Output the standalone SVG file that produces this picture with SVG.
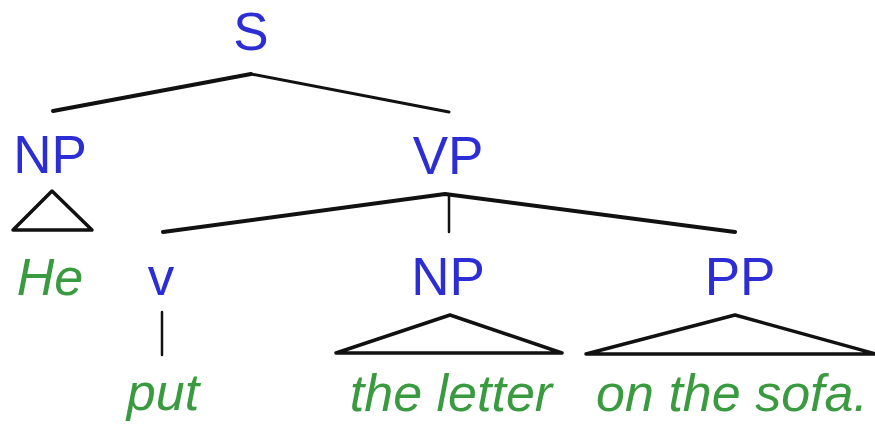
<svg xmlns="http://www.w3.org/2000/svg" width="875" height="424" viewBox="0 0 875 424">
  <style>
    .cat { font-family: "Liberation Sans", Arial, sans-serif; font-size: 53px; fill: #2d2dd6; text-anchor: middle; }
    .word { font-family: "Liberation Sans", Arial, sans-serif; font-size: 52px; font-style: italic; fill: #3a9a3f; text-anchor: middle; }
    .edge { stroke: #111; fill: none; stroke-linecap: round; stroke-linejoin: round; }
  </style>
  <rect width="875" height="424" fill="#ffffff"/>

  <!-- branches -->
  <g id="connectors" class="edge">
    <path d="M53 111 L251 74" stroke-width="4"/>
    <path d="M251 74 L449 112" stroke-width="3"/>
    <path d="M163 232 L445 194 L735 232" stroke-width="4"/>
    <path d="M449 195 L449 232" stroke-width="2.5"/>
    <path d="M162 312 L162 355" stroke-width="2.5"/>
    <!-- collapsed subtrees -->
    <path d="M13 230 L52 191 L92 230 Z" stroke-width="3.5"/>
    <path d="M336 353 L450 315 L562 353 Z" stroke-width="3.5"/>
    <path d="M586 354 L735 315 L876 354 Z" stroke-width="3.5"/>
  </g>

  <g id="S"><text class="cat" x="251" y="50">S</text></g>
  <g id="NP-subj"><text class="cat" x="50" y="173">NP</text></g>
  <g id="VP"><text class="cat" x="448" y="174">VP</text></g>
  <g id="He"><text class="word" x="50" y="295">He</text></g>
  <g id="v"><text class="cat" x="161" y="295">v</text></g>
  <g id="NP-obj"><text class="cat" x="448" y="295">NP</text></g>
  <g id="PP"><text class="cat" x="740" y="295">PP</text></g>
  <g id="put"><text class="word" x="163" y="410">put</text></g>
  <g id="the-letter"><text class="word" x="451" y="411">the letter</text></g>
  <g id="on-the-sofa"><text class="word" x="732" y="411">on the sofa.</text></g>
</svg>
